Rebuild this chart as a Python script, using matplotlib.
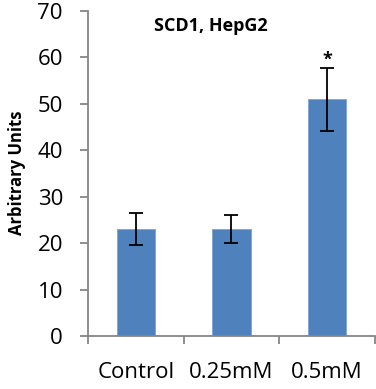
import matplotlib
matplotlib.use('Agg')
import matplotlib.pyplot as plt

categories = ['Control', '0.25mM', '0.5mM']
valores = [23.0, 23.0, 51.0]
errores = [3.4, 3.0, 6.8]
marcas = ['', '', '*']

plt.rcParams['font.family'] = ['Open Sans', 'DejaVu Sans']

fig = plt.figure(figsize=(3.76, 3.89), dpi=100)
ax = fig.add_axes([0.234, 0.1362, 0.763, 0.8355])

x = list(range(len(categories)))
ax.bar(x, valores, width=0.4, color='#4F81BD', edgecolor='#7FA3D3', linewidth=0.6,
       yerr=errores, error_kw=dict(ecolor='black', elinewidth=1.3, capsize=5, capthick=1.3))

for xi, v, e, m in zip(x, valores, errores, marcas):
    if m:
        ax.text(xi, v + e - 0.2, m, ha='center', va='bottom', fontsize=13, fontweight='bold')

ax.set_xlim(-0.5, 2.5)
ax.set_ylim(0, 70)
ax.set_yticks(range(0, 71, 10))
ax.tick_params(axis='y', labelsize=16, length=6, width=1.3, color='#868686', pad=12)

# ticks between categories, labels centred under bars
ax.set_xticks([-0.5, 0.5, 1.5, 2.5])
ax.set_xticklabels([])
ax.set_xticks(x, minor=True)
ax.set_xticklabels(categories, minor=True)
ax.tick_params(axis='x', which='major', length=6, width=1.3, color='#868686')
ax.tick_params(axis='x', which='minor', length=0, labelsize=16, pad=19)

for s in ['top', 'right']:
    ax.spines[s].set_visible(False)
for s in ['left', 'bottom']:
    ax.spines[s].set_color('#868686')
    ax.spines[s].set_linewidth(1.3)

fig.text(17.5 / 376, 1 - 173 / 389, 'Arbitrary Units', rotation=90, ha='center', va='center',
         fontsize=12, fontweight='bold')

fig.text(0.56, 1 - 26 / 389, 'SCD1, HepG2', ha='center', va='center', fontsize=13, fontweight='bold')

plt.savefig('out.png', dpi=100)
